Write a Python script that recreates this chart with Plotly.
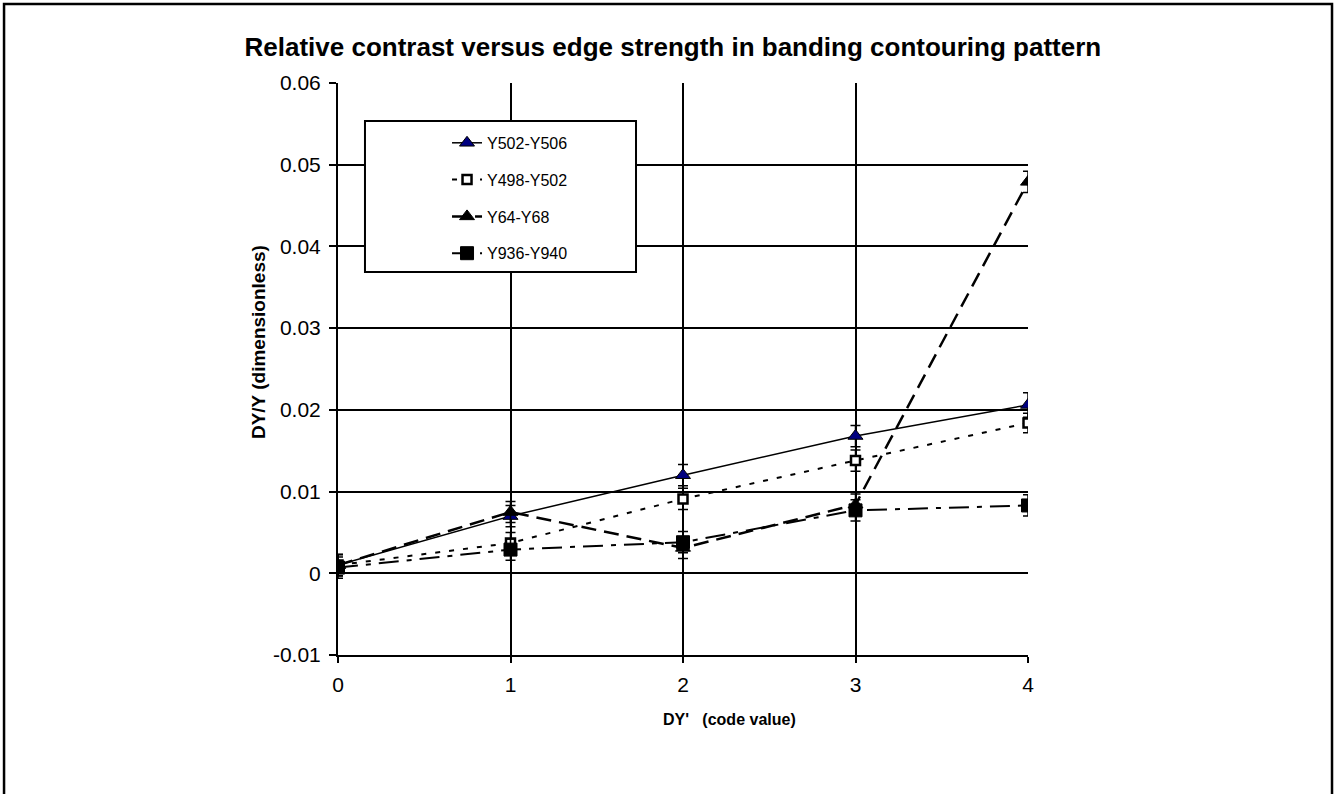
import plotly.graph_objects as go

x_vals = [0, 1, 2, 3, 4]
series_names = ["Y502-Y506", "Y498-Y502", "Y64-Y68", "Y936-Y940"]
y502_506 = [0.0010, 0.0070, 0.0120, 0.0168, 0.0206]
y498_502 = [0.0010, 0.0037, 0.0091, 0.0138, 0.0184]
y64_68 = [0.0010, 0.0075, 0.0031, 0.0084, 0.0479]
y936_940 = [0.0007, 0.0029, 0.0038, 0.0077, 0.0083]
err_502_506 = [0.0013, 0.0013, 0.0013, 0.0013, 0.0015]
err_498_502 = [0.0013, 0.0013, 0.0013, 0.0013, 0.0012]
err_64_68 = [0.0013, 0.0013, 0.0013, 0.0013, 0.0013]
err_936_940 = [0.0013, 0.0013, 0.0013, 0.0013, 0.0013]

y_ticks = [-0.01, 0, 0.01, 0.02, 0.03, 0.04, 0.05, 0.06]
y_tick_text = ["-0.01", "0", "0.01", "0.02", "0.03", "0.04", "0.05", "0.06"]

FONT = "Liberation Sans, Arial, sans-serif"

fig = go.Figure()

specs = [
    (y502_506, err_502_506, dict(color="black", width=1.5, dash="solid"),
     dict(symbol="triangle-up", size=13, color="#000080", line=dict(color="black", width=1))),
    (y498_502, err_498_502, dict(color="black", width=2, dash="5px,9px"),
     dict(symbol="square", size=9, color="white", line=dict(color="black", width=2.5))),
    (y64_68, err_64_68, dict(color="black", width=2.5, dash="15px,8px"),
     dict(symbol="triangle-up", size=13, color="black", line=dict(color="black", width=1))),
    (y936_940, err_936_940, dict(color="black", width=2, dash="20px,8px,5px,8px"),
     dict(symbol="square", size=13, color="black", line=dict(color="black", width=1))),
]

for name, (ys, errs, line, marker) in zip(series_names, specs):
    fig.add_trace(go.Scatter(
        x=x_vals, y=ys, name=name, mode="lines+markers", legendgroup=name,
        line=line, marker=marker,
        error_y=dict(type="data", array=errs, visible=True, color="black",
                     thickness=1.5, width=5),
    ))

fig.update_layout(
    width=1335, height=794,
    margin=dict(l=338, r=307, t=83, b=139),
    paper_bgcolor="white", plot_bgcolor="white",
    font=dict(family=FONT, color="black", size=21),
    title=dict(text="<b>Relative contrast versus edge strength in banding contouring pattern</b>",
               x=0.504, xanchor="center", y=0.941, yanchor="middle",
               font=dict(size=26, family=FONT)),
    xaxis=dict(range=[0, 4], tickvals=x_vals, ticktext=[str(v) for v in x_vals],
               showgrid=True, gridcolor="black", gridwidth=1.5,
               zeroline=False, showline=True, linecolor="black", linewidth=2,
               ticks="outside", ticklen=6, tickcolor="black", tickwidth=1.5,
               tickfont=dict(size=21), ticklabelstandoff=4),
    yaxis=dict(range=[-0.01, 0.06], tickvals=y_ticks, ticktext=y_tick_text,
               showgrid=True, gridcolor="black", gridwidth=2,
               zeroline=False, showline=True, linecolor="black", linewidth=2,
               ticks="outside", ticklen=7, tickcolor="black", tickwidth=1.5,
               tickfont=dict(size=21), ticklabelstandoff=4),
    legend=dict(x=0.158, y=0.925, xanchor="left", yanchor="top",
                bgcolor="rgba(0,0,0,0)", borderwidth=0,
                font=dict(size=16, family=FONT),
                tracegroupgap=13, traceorder="grouped"),
    showlegend=True,
)

# axis titles
fig.add_annotation(text="<b>DY'   (code value)</b>", xref="paper", yref="paper",
                   x=0.567, y=-0.1136, showarrow=False, font=dict(size=16),
                   xanchor="center", yanchor="middle")
fig.add_annotation(text="<b>DY/Y (dimensionless)</b>", xref="paper", yref="paper",
                   x=-0.116, y=0.547, showarrow=False, font=dict(size=19),
                   textangle=-90, xanchor="center", yanchor="middle")

# legend box
fig.add_shape(type="rect", xref="paper", yref="paper",
              x0=0.0391, x1=0.4319, y0=0.6696, y1=0.9336,
              line=dict(color="black", width=2), fillcolor="white", layer="above")

# outer border
fig.add_shape(type="rect", xref="paper", yref="paper",
              x0=-0.484, x1=1.4406, y0=-0.248, y1=1.138,
              line=dict(color="black", width=2.5), fillcolor="rgba(0,0,0,0)", layer="below")

fig.write_html("out.html", config={"displayModeBar": False},
               post_script="document.body.style.margin='0px';")
